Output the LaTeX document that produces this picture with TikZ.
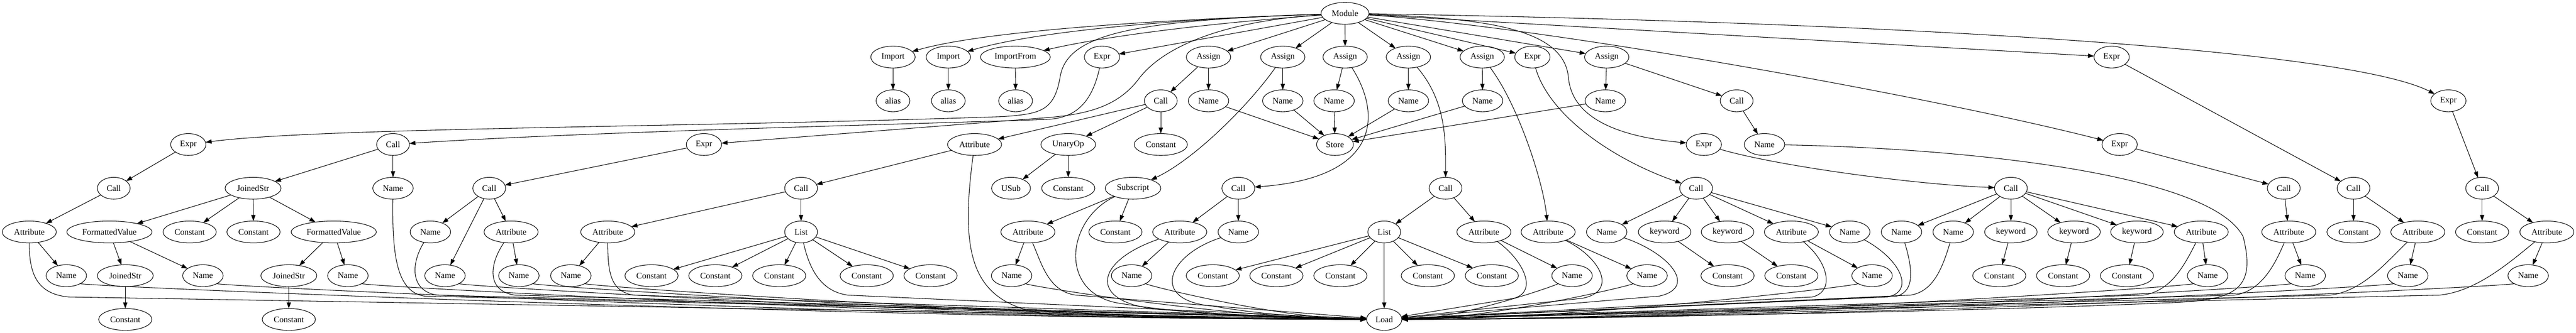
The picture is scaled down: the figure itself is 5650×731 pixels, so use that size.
\documentclass[tikz,border=0pt]{standalone}
\usepackage{fontspec}
\setmainfont{Liberation Serif}
\usetikzlibrary{arrows.meta,shapes.geometric}
\newcommand\nn[4]{\node[nd,t-#4] (#1) at (#2,{-29.3-96*#3}) {#4};}
\newcommand\ee[2]{\draw[edg] (#1) -- (#2);}
\newcommand\lp[7]{\draw[edg] (#1) .. controls (#2,#3) and (#4,#5) .. (#6,#7) -- (ld);}
\newcommand\lsix[3]{\draw[edg] (#1) .. controls +(#2:47) and +(#3,0) .. (ld);}
\begin{document}
\begin{tikzpicture}[x=0.75pt,y=0.75pt,
  nd/.style={ellipse,draw,line width=0.9pt,inner sep=0pt,outer sep=0pt,minimum height=36pt,font=\fontsize{14pt}{16pt}\selectfont},
  t-Module/.style={minimum width=79pt},
  t-Import/.style={minimum width=73pt},
  t-alias/.style={minimum width=55.5pt},
  t-ImportFrom/.style={minimum width=115pt},
  t-Expr/.style={minimum width=58pt},
  t-Assign/.style={minimum width=73pt},
  t-Call/.style={minimum width=54pt},
  t-Name/.style={minimum width=66.6pt},
  t-Constant/.style={minimum width=87.5pt},
  t-UnaryOp/.style={minimum width=90pt},
  t-USub/.style={minimum width=64pt},
  t-Store/.style={minimum width=60.6pt},
  t-Attribute/.style={minimum width=89pt},
  t-JoinedStr/.style={minimum width=92pt},
  t-FormattedValue/.style={minimum width=140pt},
  t-Subscript/.style={minimum width=91.5pt},
  t-List/.style={minimum width=54pt},
  t-keyword/.style={minimum width=86.5pt},
  t-Load/.style={minimum width=58pt},
  edg/.style={draw,line width=0.9pt,-{Triangle[length=10pt,width=7pt]}}]
\fill[white] (0,0) rectangle (5650,-731);
\useasboundingbox (0,0) rectangle (5650,-731);
% rank 0-1
\nn{M}{2950}{0}{Module}
\nn{imp1}{1958.6}{1}{Import}
\nn{imp2}{2080}{1}{Import}
\nn{impf}{2227}{1}{ImportFrom}
\nn{exA}{2417}{1}{Expr}
\nn{asA}{2650.6}{1}{Assign}
\nn{asB}{2813.5}{1}{Assign}
\nn{asC}{2950.3}{1}{Assign}
\nn{asD}{3089}{1}{Assign}
\nn{asE}{3251}{1}{Assign}
\nn{exB}{3361}{1}{Expr}
\nn{asF}{3524}{1}{Assign}
\nn{exC}{4631.5}{1}{Expr}
% rank 2
\nn{al1}{1958.6}{2}{alias}
\nn{al2}{2080}{2}{alias}
\nn{al3}{2227.5}{2}{alias}
\nn{caA}{2546}{2}{Call}
\nn{nmA}{2650.6}{2}{Name}
\nn{nmB}{2813.5}{2}{Name}
\nn{nmC}{2926}{2}{Name}
\nn{nmD}{3089}{2}{Name}
\nn{nmE}{3251.7}{2}{Name}
\nn{nmF}{3521}{2}{Name}
\nn{caB}{3809}{2}{Call}
\nn{exD}{5370}{2}{Expr}
% rank 3
\nn{exE}{413}{3}{Expr}
\nn{caC}{862}{3}{Call}
\nn{exF}{1544}{3}{Expr}
\nn{atA}{2137.5}{3}{Attribute}
\nn{un}{2343}{3}{UnaryOp}
\nn{coA}{2546}{3}{Constant}
\nn{st}{2928}{3}{Store}
\nn{exG}{3737}{3}{Expr}
\nn{nmG}{3870}{3}{Name}
\nn{exH}{4649}{3}{Expr}
% rank 4
\nn{caD}{249.5}{4}{Call}
\nn{jsA}{555}{4}{JoinedStr}
\nn{nmH}{862}{4}{Name}
\nn{caE}{1073}{4}{Call}
\nn{caF}{1757}{4}{Call}
\nn{us}{2217.5}{4}{USub}
\nn{coB}{2343}{4}{Constant}
\nn{sub}{2485}{4}{Subscript}
\nn{caG}{2716}{4}{Call}
\nn{caH}{3170.5}{4}{Call}
\nn{caI}{3720}{4}{Call}
\nn{caJ}{4410.5}{4}{Call}
\nn{caK}{5009}{4}{Call}
\nn{caL}{5162}{4}{Call}
\nn{caM}{5444}{4}{Call}
% rank 5
\nn{atB}{64.3}{5}{Attribute}
\nn{fvA}{240}{5}{FormattedValue}
\nn{coC}{416}{5}{Constant}
\nn{coD}{556}{5}{Constant}
\nn{fvB}{732}{5}{FormattedValue}
\nn{nmI}{944}{5}{Name}
\nn{atC}{1121}{5}{Attribute}
\nn{atD}{1333}{5}{Attribute}
\nn{liA}{1757}{5}{List}
\nn{atE}{2254.5}{5}{Attribute}
\nn{coE}{2446.5}{5}{Constant}
\nn{atF}{2587.5}{5}{Attribute}
\nn{nmJ}{2716}{5}{Name}
\nn{liB}{3036}{5}{List}
\nn{atG}{3254.6}{5}{Attribute}
\nn{atH}{3395.6}{5}{Attribute}
\nn{nmK}{3524}{5}{Name}
\nn{kwA}{3651}{5}{keyword}
\nn{kwB}{3789}{5}{keyword}
\nn{atI}{3929}{5}{Attribute}
\nn{nmL}{4057}{5}{Name}
\nn{nmM}{4170.5}{5}{Name}
\nn{nmN}{4284}{5}{Name}
\nn{kwC}{4410.5}{5}{keyword}
\nn{kwD}{4549}{5}{keyword}
\nn{kwE}{4687}{5}{keyword}
\nn{atJ}{4828}{5}{Attribute}
\nn{atK}{5020}{5}{Attribute}
\nn{coF}{5162}{5}{Constant}
\nn{atL}{5303}{5}{Attribute}
\nn{coG}{5444}{5}{Constant}
\nn{atM}{5586}{5}{Attribute}
% rank 6
\nn{nmO}{145.4}{6}{Name}
\nn{jsB}{274.8}{6}{JoinedStr}
\nn{nmP}{445}{6}{Name}
\nn{jsC}{633.5}{6}{JoinedStr}
\nn{nmQ}{763}{6}{Name}
\nn{nmR}{976}{6}{Name}
\nn{nmS}{1138}{6}{Name}
\nn{nmT}{1252}{6}{Name}
\nn{coH}{1429}{6}{Constant}
\nn{coI}{1569}{6}{Constant}
\nn{coJ}{1709}{6}{Constant}
\nn{coK}{1901}{6}{Constant}
\nn{coL}{2041}{6}{Constant}
\nn{nmU}{2218.8}{6}{Name}
\nn{nmV}{2482}{6}{Name}
\nn{coM}{2660}{6}{Constant}
\nn{coN}{2799.6}{6}{Constant}
\nn{coO}{2939.8}{6}{Constant}
\nn{coP}{3131.7}{6}{Constant}
\nn{coQ}{3272}{6}{Constant}
\nn{nmW}{3448}{6}{Name}
\nn{nmX}{3612.5}{6}{Name}
\nn{coR}{3789}{6}{Constant}
\nn{coS}{3929}{6}{Constant}
\nn{nmY}{4106}{6}{Name}
\nn{coT}{4385}{6}{Constant}
\nn{coU}{4525}{6}{Constant}
\nn{coV}{4665}{6}{Constant}
\nn{nmZ}{4842}{6}{Name}
\nn{nmAA}{5056}{6}{Name}
\nn{nmAB}{5281}{6}{Name}
\nn{nmAC}{5545}{6}{Name}
% rank 7
\nn{coW}{274.8}{7}{Constant}
\nn{coX}{633.5}{7}{Constant}
\nn{ld}{3036}{7}{Load}

% ---- Module edges
\draw[edg] (M) .. controls (2500,-45) and (2150,-70) .. (imp1);
\draw[edg] (M) .. controls (2500,-45) and (2250,-75) .. (imp2);
\draw[edg] (M) .. controls (2600,-55) and (2400,-85) .. (impf);
\ee{M}{exA} \ee{M}{asA} \ee{M}{asB} \ee{M}{asC} \ee{M}{asD} \ee{M}{asE}
\ee{M}{exB} \ee{M}{asF} \ee{M}{exC}
\draw[edg] (M) .. controls (2500,-45) and (2340,-70) .. (2325,-170)
  .. controls (2312,-245) and (2280,-250) .. (2200,-256)
  .. controls (1500,-280) and (700,-280) .. (exE);
\draw[edg] (M) .. controls (2700,-45) and (2560,-95) .. (2500,-170)
  .. controls (2455,-232) and (2390,-250) .. (2300,-258) -- (exF);
\draw[edg] (M) .. controls (3250,-40) and (3430,-60) .. (3440,-170)
  .. controls (3448,-260) and (3550,-300) .. (exG);
\draw[edg] (M) .. controls (3400,-60) and (4250,-215) .. (exH);
\draw[edg] (M) .. controls (4200,-50) and (5150,-110) .. (exD);
% ---- rank 1 children
\ee{imp1}{al1} \ee{imp2}{al2} \ee{impf}{al3}
\draw[edg] (exA) .. controls (2395,-225) and (2360,-258) .. (2300,-262)
  .. controls (2100,-270) and (1300,-288) .. (caC);
\ee{asA}{caA} \ee{asA}{nmA}
\ee{asB}{nmB}
\draw[edg] (asB) .. controls (2740,-230) and (2620,-350) .. (sub);
\ee{asC}{nmC}
\draw[edg] (asC) .. controls (3030,-250) and (3030,-390) .. (caG);
\ee{asD}{nmD}
\draw[edg] (asD) .. controls (3170,-220) and (3171,-300) .. (caH);
\ee{asE}{nmE}
\draw[edg] (asE) .. controls (3330,-230) and (3385,-400) .. (atH);
\draw[edg] (exB) .. controls (3400,-260) and (3550,-355) .. (caI);
\ee{asF}{nmF} \ee{asF}{caB}
\ee{exC}{caL}
% ---- rank 2 children
\ee{caA}{un} \ee{caA}{coA} \ee{caA}{atA}
\ee{nmA}{st} \ee{nmB}{st} \ee{nmC}{st} \ee{nmD}{st} \ee{nmE}{st} \ee{nmF}{st}
\ee{caB}{nmG}
\ee{exD}{caM}
% ---- rank 3 children
\ee{exE}{caD}
\ee{caC}{jsA} \ee{caC}{nmH}
\ee{exF}{caE}
\ee{atA}{caF}
\ee{un}{us} \ee{un}{coB}
\draw[edg] (exG) .. controls (3900,-365) and (4200,-405) .. (caJ);
\ee{exH}{caK}
% ---- rank 4 children
\ee{caD}{atB}
\ee{jsA}{fvA} \ee{jsA}{coC} \ee{jsA}{coD} \ee{jsA}{fvB}
\ee{caE}{nmI} \ee{caE}{nmR} \ee{caE}{atC}
\ee{caF}{liA} \ee{caF}{atD}
\ee{sub}{atE} \ee{sub}{coE}
\ee{caG}{atF} \ee{caG}{nmJ}
\ee{caH}{liB} \ee{caH}{atG}
\ee{caI}{nmK} \ee{caI}{kwA} \ee{caI}{kwB} \ee{caI}{atI} \ee{caI}{nmL}
\ee{caJ}{nmM} \ee{caJ}{nmN} \ee{caJ}{kwC} \ee{caJ}{kwD} \ee{caJ}{kwE} \ee{caJ}{atJ}
\ee{caK}{atK}
\ee{caL}{coF} \ee{caL}{atL}
\ee{caM}{coG} \ee{caM}{atM}
% ---- rank 5 children
\ee{atB}{nmO}
\ee{fvA}{jsB} \ee{fvA}{nmP}
\ee{fvB}{jsC} \ee{fvB}{nmQ}
\ee{atC}{nmS}
\ee{atD}{nmT}
\ee{liA}{coH} \ee{liA}{coI} \ee{liA}{coJ} \ee{liA}{coK} \ee{liA}{coL}
\ee{atE}{nmU}
\ee{atF}{nmV}
\ee{liB}{coM} \ee{liB}{coN} \ee{liB}{coO} \ee{liB}{coP} \ee{liB}{coQ}
\ee{atG}{nmW}
\ee{atH}{nmX}
\ee{kwA}{coR} \ee{kwB}{coS}
\ee{atI}{nmY}
\ee{kwC}{coT} \ee{kwD}{coU} \ee{kwE}{coV}
\ee{atJ}{nmZ}
\ee{atK}{nmAA}
\ee{atL}{nmAB}
\ee{atM}{nmAC}
% ---- rank 6 children
\ee{jsB}{coW} \ee{jsC}{coX}
% ---- edges into Load, from the left
\lp{atB}{64}{-600}{80}{-645}{150}{-652}
\lp{nmH}{860}{-560}{870}{-640}{930}{-650}
\lp{nmI}{900}{-580}{900}{-640}{960}{-648}
\lp{atC}{1070}{-585}{1070}{-640}{1130}{-648}
\lp{atD}{1333}{-600}{1340}{-640}{1390}{-648}
\lp{liA}{1775}{-590}{1800}{-640}{1860}{-648}
\lp{atA}{2100}{-600}{2140}{-700}{2400}{-695}
\lp{atE}{2285}{-580}{2300}{-640}{2360}{-648}
\draw[edg] (sub) .. controls (2340,-480) and (2320,-640) .. (2450,-665)
  .. controls (2600,-690) and (2800,-700) .. (ld);
\draw[edg] (atF) .. controls (2395,-575) and (2385,-668) .. (2550,-680)
  .. controls (2700,-690) and (2850,-700) .. (ld);
\draw[edg] (nmJ) .. controls (2560,-560) and (2520,-660) .. (2660,-672)
  .. controls (2760,-690) and (2900,-700) .. (ld);
\lsix{nmO}{-30}{-1127}
\lsix{nmP}{-30}{-1010}
\lsix{nmQ}{-30}{-886}
\lsix{nmR}{-30}{-803}
\lsix{nmS}{-30}{-740}
\lsix{nmT}{-30}{-696}
\lsix{nmU}{-30}{-319}
\lsix{nmV}{-30}{-216}
% ---- edges into Load, from the right
\ee{liB}{ld}
\lp{atG}{3340}{-570}{3375}{-640}{3320}{-655}
\lp{atH}{3510}{-565}{3550}{-640}{3470}{-655}
\lp{nmK}{3660}{-555}{3725}{-630}{3640}{-650}
\lp{atI}{4010}{-575}{4025}{-640}{3975}{-652}
\lp{nmL}{4170}{-570}{4200}{-640}{4140}{-652}
\lp{nmM}{4195}{-590}{4200}{-640}{4160}{-650}
\lp{nmN}{4260}{-590}{4240}{-640}{4190}{-648}
\lp{atJ}{4790}{-585}{4760}{-640}{4700}{-648}
\lp{atK}{4990}{-580}{4960}{-640}{4900}{-648}
\lp{atL}{5230}{-580}{5180}{-640}{5110}{-648}
\lp{atM}{5500}{-580}{5430}{-640}{5350}{-648}
\draw[edg] (nmG) .. controls (4300,-325) and (4850,-380) .. (4920,-520)
  .. controls (4950,-640) and (4900,-660) .. (4750,-665)
  .. controls (4300,-685) and (3400,-700) .. (ld);
\lsix{nmW}{210}{161}
\lsix{nmX}{210}{225}
\lsix{nmY}{210}{417}
\lsix{nmZ}{210}{704}
\lsix{nmAA}{210}{788}
\lsix{nmAB}{210}{876}
\lsix{nmAC}{210}{979}
\end{tikzpicture}
\end{document}
